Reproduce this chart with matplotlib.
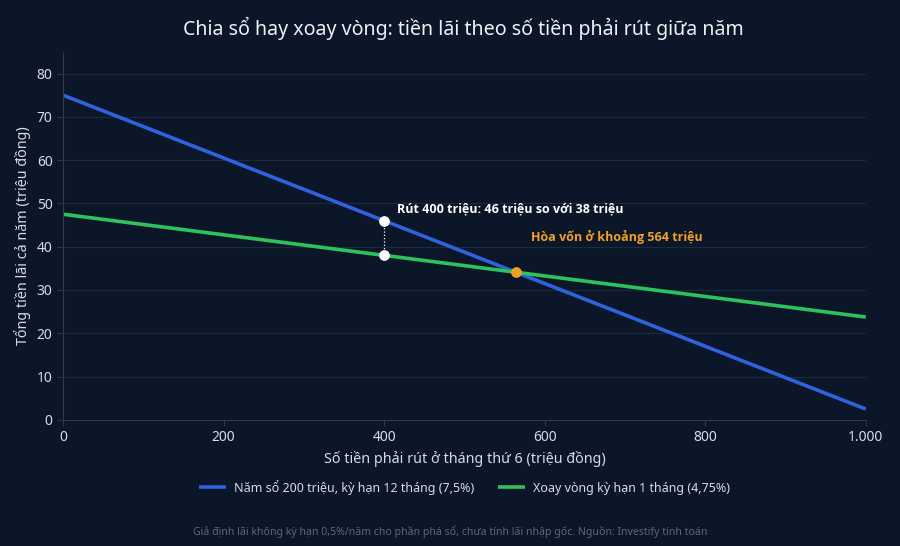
import numpy as np
import matplotlib
matplotlib.use("Agg")
import matplotlib.pyplot as plt

plt.rcParams['font.family'] = ['Noto Sans', 'DejaVu Sans']

# so tien rut (trieu dong) va tong lai ca nam
rut = [0, 1000]
lai_12_thang = [75.0, 2.5]
lai_xoay_vong = [47.5, 23.75]

mau_rut = 400
mau_lai = [46, 38]
hoa_von_x = 564
hoa_von_y = 34.1

bg = '#0b1728'
grid_c = '#1b2a3e'
text_c = '#d5dbe3'
bold_font = ['Open Sans', 'DejaVu Sans']

fig = plt.figure(figsize=(9, 5.46), dpi=100, facecolor=bg)
ax = fig.add_axes([0.07, 0.231, 0.892, 0.674], facecolor=bg)

ax.plot(rut, lai_12_thang, color='#2e62e0', lw=2.6, label='Năm sổ 200 triệu, kỳ hạn 12 tháng (7,5%)', solid_capstyle='butt')
ax.plot(rut, lai_xoay_vong, color='#2cc35c', lw=2.6, label='Xoay vòng kỳ hạn 1 tháng (4,75%)', solid_capstyle='butt')

# diem so sanh o 400 trieu
ax.plot([mau_rut, mau_rut], mau_lai, color='white', lw=0.9, ls=':', zorder=4)
ax.scatter([mau_rut, mau_rut], mau_lai, s=45, color='white', zorder=5)
ax.scatter([hoa_von_x], [hoa_von_y], s=45, color='#f0a020', zorder=5)

ax.text(416, 48.6, 'Rút 400 triệu: 46 triệu so với 38 triệu', color='white',
        fontsize=9, fontweight='bold', family=bold_font, va='center', ha='left')
ax.text(583, 42.2, 'Hòa vốn ở khoảng 564 triệu', color='#f0a020',
        fontsize=9, fontweight='bold', family=bold_font, va='center', ha='left')

ax.set_xlim(0, 1000)
ax.set_ylim(0, 85)
ax.set_xticks([0, 200, 400, 600, 800, 1000])
ax.set_xticklabels(['0', '200', '400', '600', '800', '1.000'])
ax.set_yticks(range(0, 81, 10))
ax.grid(True, axis='y', color=grid_c, lw=0.8)
ax.set_axisbelow(True)
for s in ['top', 'right']:
    ax.spines[s].set_visible(False)
for s in ['left', 'bottom']:
    ax.spines[s].set_color('#2c3a4e')
ax.tick_params(colors=text_c, labelsize=10, length=4, color='#2c3a4e')

ax.set_xlabel('Số tiền phải rút ở tháng thứ 6 (triệu đồng)', color=text_c, fontsize=10.3, labelpad=4)
ax.set_ylabel('Tổng tiền lãi cả năm (triệu đồng)', color=text_c, fontsize=10.3, labelpad=4)

fig.text(0.515, 0.948, 'Chia sổ hay xoay vòng: tiền lãi theo số tiền phải rút giữa năm',
         color='#eef1f5', fontsize=14.1, ha='center', va='center')

leg = fig.legend(loc='center', bbox_to_anchor=(0.516, 0.108), ncol=2, frameon=False,
                 fontsize=9, handlelength=2.2, handletextpad=0.6, columnspacing=1.9)
for t in leg.get_texts():
    t.set_color(text_c)

fig.text(0.5, 0.026, 'Giả định lãi không kỳ hạn 0,5%/năm cho phần phá sổ, chưa tính lãi nhập gốc. Nguồn: Investify tính toán',
         color='#5c6878', fontsize=7.6, ha='center', va='center')

fig.savefig('out.png', dpi=100, facecolor=bg)
